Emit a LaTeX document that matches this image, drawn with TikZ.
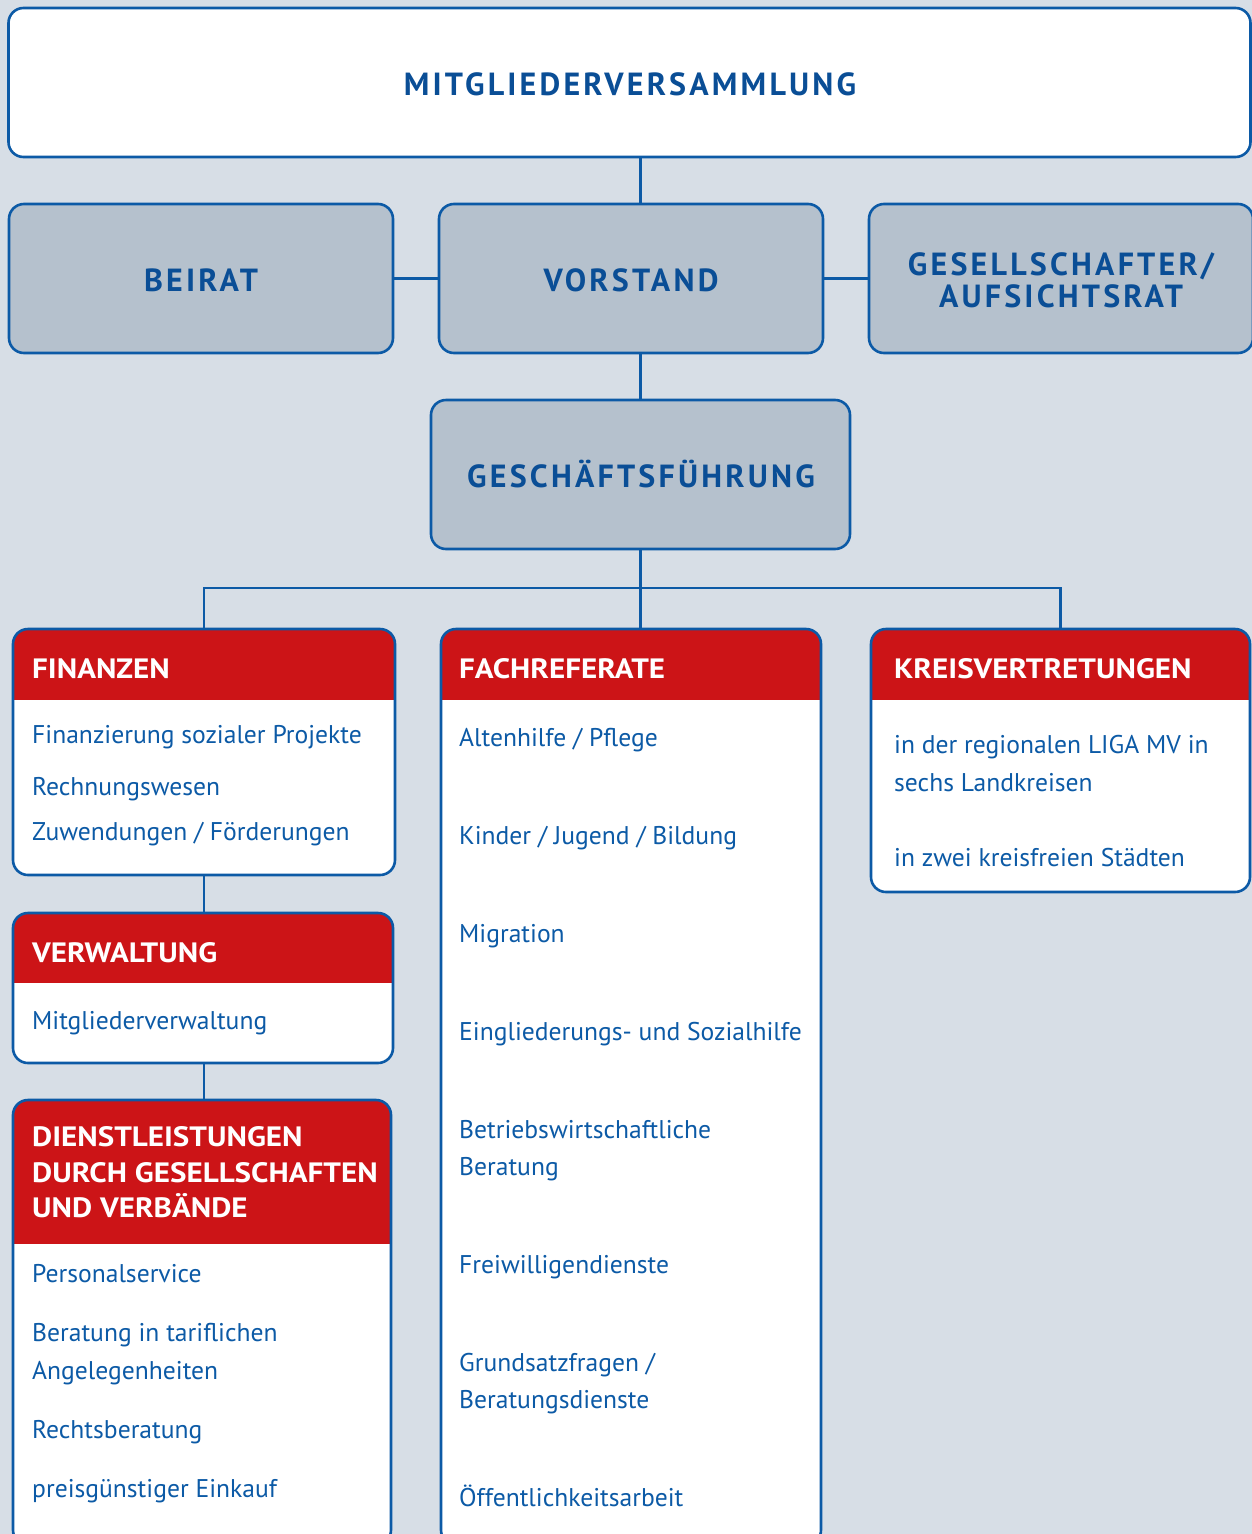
\documentclass[tikz,border=0pt]{standalone}
\usepackage{fontspec}
\setmainfont{PT Sans}
\definecolor{bg}{RGB}{215,222,230}
\definecolor{grayfill}{RGB}{181,193,205}
\definecolor{blu}{RGB}{12,90,166}
\definecolor{titleblu}{RGB}{10,78,150}
\definecolor{redhdr}{RGB}{204,20,23}
\begin{document}
\begin{tikzpicture}[x=1pt,y=-1pt,
  basebox/.style={draw=blu, line width=2.6pt, rounded corners=15pt, inner sep=0pt},
  topbox/.style={basebox, fill=white},
  graybox/.style={basebox, fill=grayfill},
  card/.style={basebox, fill=white, path picture={\fill[redhdr, sharp corners] (path picture bounding box.north west) rectangle ([yshift=-#1]path picture bounding box.north east);}},
  ttl/.style={font=\fontsize{32}{36}\selectfont\bfseries\addfontfeatures{LetterSpace=10}, text=titleblu, align=center, inner sep=0pt},
  hdr/.style={font=\fontsize{28}{35.5}\selectfont\bfseries\addfontfeatures{FakeStretch=1.11}, text=white, anchor=base west, inner sep=0pt, align=left},
  itm/.style={font=\fontsize{25.6}{37.5}\selectfont, text=blu, anchor=base west, inner sep=0pt, align=left},
  con/.style={draw=blu, line width=2.6pt}]
\useasboundingbox (0,0) rectangle (1252,1534);
\fill[bg] (0,0) rectangle (1252,1534);
\clip (0,0) rectangle (1252,1534);
% boxes
\node[topbox, minimum width=1242pt, minimum height=149pt] (mv) at (629.5,82.5) {};
\node[graybox, minimum width=384pt, minimum height=149pt] (beirat) at (201,278.5) {};
\node[graybox, minimum width=384pt, minimum height=149pt] (vor) at (631,278.5) {};
\node[graybox, minimum width=384pt, minimum height=149pt] (ges) at (1061,278.5) {};
\node[graybox, minimum width=419pt, minimum height=149pt] (gf) at (640.5,474.5) {};
\node[card=71pt, minimum width=382pt, minimum height=246pt] (fin) at (204,752) {};
\node[card=71pt, minimum width=380pt, minimum height=916pt] (fach) at (631,1087) {};
\node[card=71pt, minimum width=379pt, minimum height=263pt] (kreis) at (1060.5,760.5) {};
\node[card=70pt, minimum width=380pt, minimum height=150pt] (verw) at (203,988) {};
\node[card=144pt, minimum width=378pt, minimum height=445pt] (dienst) at (202,1322.5) {};
% titles
\node[ttl, anchor=base] (tmv) at (630,95) {MITGLIEDERVERSAMMLUNG};
\node[ttl, anchor=base] (tbeirat) at (201,291) {BEIRAT};
\node[ttl, anchor=base] (tvor) at (631,291) {VORSTAND};
\node[ttl, anchor=base] (tges1) at (1061,275) {GESELLSCHAFTER/};
\node[ttl, anchor=base] (tges2) at (1061,307) {AUFSICHTSRAT};
\node[ttl, anchor=base] (tgf) at (641,487) {GESCHÄFTSFÜHRUNG};
% card headers
\node[hdr] (hfin) at (32,678) {FINANZEN};
\node[hdr] (hfach) at (459,678) {FACHREFERATE};
\node[hdr] (hkreis) at (894,678) {KREISVERTRETUNGEN};
\node[hdr] (hverw) at (32,962) {VERWALTUNG};
\node[hdr] (hd1) at (32,1146) {DIENSTLEISTUNGEN};
\node[hdr] (hd2) at (32,1182) {DURCH GESELLSCHAFTEN};
\node[hdr] (hd3) at (32,1217) {UND VERBÄNDE};
% items
\node[itm] (f1) at (32,743) {Finanzierung sozialer Projekte};
\node[itm] (f2) at (32,795) {Rechnungswesen};
\node[itm] (f3) at (32,840) {Zuwendungen / Förderungen};
\node[itm] (v1) at (32,1029) {Mitgliederverwaltung};
\node[itm] (d1) at (32,1282) {Personalservice};
\node[itm] (d2) at (32,1341) {Beratung in tariflichen};
\node[itm] (d3) at (32,1379) {Angelegenheiten};
\node[itm] (d4) at (32,1438) {Rechtsberatung};
\node[itm] (d5) at (32,1497) {preisgünstiger Einkauf};
\node[itm] (a1) at (459,746) {Altenhilfe / Pflege};
\node[itm] (a2) at (459,844) {Kinder / Jugend / Bildung};
\node[itm] (a3) at (459,942) {Migration};
\node[itm] (a4) at (459,1040) {Eingliederungs- und Sozialhilfe};
\node[itm] (a5) at (459,1138) {Betriebswirtschaftliche};
\node[itm] (a6) at (459,1175) {Beratung};
\node[itm] (a7) at (459,1273) {Freiwilligendienste};
\node[itm] (a8) at (459,1371) {Grundsatzfragen /};
\node[itm] (a9) at (459,1408) {Beratungsdienste};
\node[itm] (a10) at (459,1506) {Öffentlichkeitsarbeit};
\node[itm] (k1) at (894,753) {in der regionalen LIGA MV in};
\node[itm] (k2) at (894,791) {sechs Landkreisen};
\node[itm] (k3) at (894,866) {in zwei kreisfreien Städten};
% connectors
\coordinate (bus) at (640,588);
\draw[con] (gf.north |- mv.south) -- (gf.north |- vor.north);
\draw[con] (gf.north |- vor.south) -- (gf.north);
\draw[con] (beirat.east) -- (vor.west);
\draw[con] (vor.east) -- (ges.west);
\draw[con] (gf.south) -- (gf.south |- fach.north);
\draw[con] (fin.north) |- (bus) -| (kreis.north);
\draw[con] (fin.south) -- (fin.south |- verw.north);
\draw[con] (fin.south |- verw.south) -- (fin.south |- dienst.north);
\end{tikzpicture}
\end{document}
